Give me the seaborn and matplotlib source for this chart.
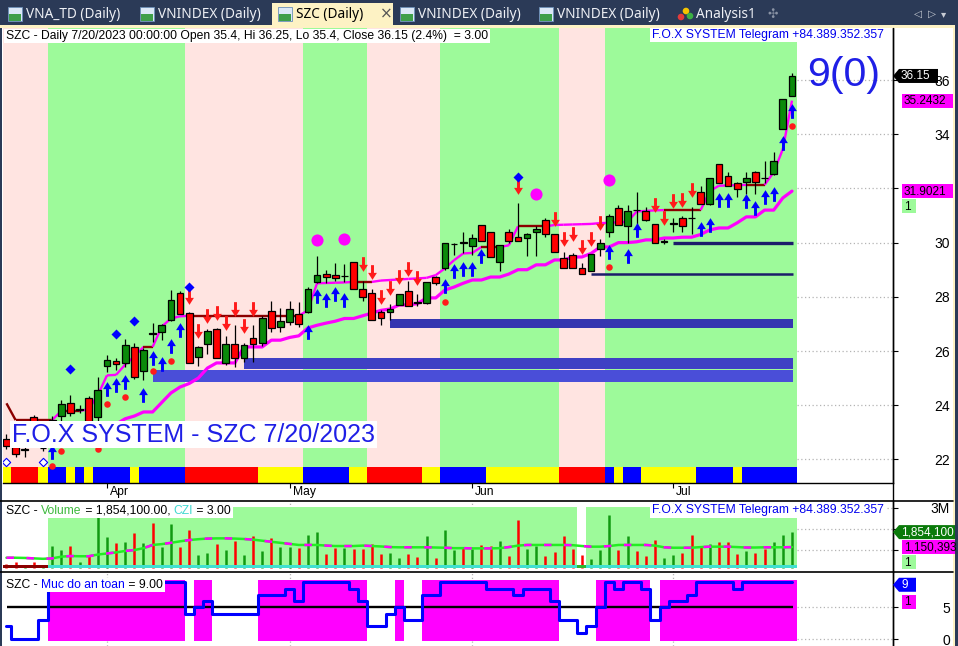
import numpy as np
import matplotlib
matplotlib.use("Agg")
import matplotlib.pyplot as plt
import seaborn as sns
from matplotlib.path import Path
from matplotlib.patches import Rectangle, Polygon, Circle
from matplotlib.lines import Line2D
from matplotlib.transforms import IdentityTransform, ScaledTranslation
from matplotlib.collections import LineCollection

# ====================== data ======================
month_labels = ["Apr", "May", "Jun", "Jul"]
month_bars = [11, 31, 51, 73]

opens = [22.75, 22.45, 22.35, 23.55, 22.42, 22.80, 23.60, 24.08, 23.83, 24.27,
         23.56, 25.45, 25.63, 25.56, 26.15, 25.27, 26.65, 26.70, 27.15, 28.14,
         27.40, 25.78, 26.26, 26.81, 25.56, 26.26, 25.74, 26.48, 26.30, 27.48,
         26.89, 27.07, 27.37, 27.44, 28.53, 28.84, 28.80, 28.76, 29.30, 28.30,
         28.14, 27.45, 27.44, 27.70, 28.20, 27.81, 27.78, 28.73, 29.07, 29.94,
         30.01, 29.88, 30.65, 30.40, 29.30, 30.40, 30.20, 30.17, 30.40, 30.83,
         30.30, 29.43, 29.55, 29.06, 28.95, 29.77, 30.40, 31.27, 30.60, 31.21,
         31.17, 30.70, 30.04, 30.69, 30.90, 30.91, 31.87, 31.43, 32.90, 32.45,
         32.20, 32.23, 32.60, 32.39, 32.53, 34.20, 35.40]
highs = [22.95, 22.60, 22.50, 23.65, 22.55, 23.60, 24.20, 24.38, 24.00, 24.35,
         25.05, 25.85, 25.75, 26.45, 26.30, 26.10, 27.04, 27.00, 28.25, 28.20,
         27.45, 26.20, 26.80, 26.85, 26.55, 26.96, 26.30, 26.95, 27.30, 27.85,
         27.60, 27.85, 27.80, 28.35, 29.50, 29.00, 29.25, 29.20, 29.30, 28.60,
         28.30, 27.50, 27.75, 28.10, 28.60, 28.10, 28.55, 28.75, 30.00, 29.98,
         30.40, 30.30, 30.65, 30.40, 29.92, 30.50, 31.45, 30.35, 30.60, 30.90,
         30.30, 29.65, 29.60, 29.25, 29.58, 30.15, 31.05, 31.40, 31.40, 31.85,
         31.30, 30.70, 30.15, 30.90, 31.00, 31.30, 32.10, 32.38, 32.90, 32.60,
         32.25, 32.60, 32.65, 33.00, 33.35, 35.30, 36.25]
lows = [22.40, 22.10, 22.10, 22.60, 22.30, 22.60, 23.40, 23.60, 23.70, 23.35,
        23.40, 25.23, 25.30, 25.40, 24.95, 24.93, 26.33, 26.40, 27.10, 27.35,
        25.56, 25.45, 25.90, 25.74, 25.50, 25.42, 25.60, 25.60, 26.20, 26.70,
        26.70, 26.95, 26.90, 27.40, 28.50, 28.50, 28.60, 28.55, 28.30, 27.85,
        27.15, 26.95, 27.15, 27.70, 27.66, 27.65, 27.75, 28.45, 29.00, 29.55,
        29.60, 29.55, 30.05, 29.47, 28.95, 30.00, 30.05, 29.50, 29.50, 30.20,
        29.65, 29.06, 29.06, 28.84, 28.95, 29.50, 30.20, 30.65, 30.00, 30.40,
        30.80, 30.00, 29.95, 30.40, 30.40, 30.30, 31.43, 31.40, 32.20, 32.10,
        31.70, 31.80, 31.80, 32.20, 32.50, 34.20, 35.40]
closes = [22.50, 22.20, 22.38, 22.70, 22.42, 23.45, 24.05, 23.72, 23.85, 23.40,
          24.56, 25.67, 25.52, 26.22, 25.04, 26.04, 26.62, 26.96, 27.88, 27.37,
          25.56, 26.15, 26.74, 25.74, 26.26, 25.74, 26.22, 26.26, 27.22, 26.85,
          27.11, 27.55, 27.00, 28.29, 28.80, 28.73, 28.70, 28.78, 28.30, 28.00,
          27.15, 27.20, 27.55, 28.10, 27.66, 27.79, 28.55, 28.50, 30.00, 29.96,
          29.99, 30.17, 30.06, 29.47, 29.90, 30.06, 30.06, 30.30, 30.50, 30.30,
          29.65, 29.06, 29.06, 28.84, 29.58, 30.00, 31.00, 30.65, 31.15, 31.19,
          30.83, 30.00, 30.06, 30.71, 30.60, 30.89, 31.43, 32.38, 32.20, 32.10,
          31.98, 32.38, 32.23, 32.37, 33.00, 35.30, 36.15]

# fast trailing line (magenta rising / dark red flat)
upper_line = [24.07, 23.45, 23.45, 23.45, 23.45, 23.45, 23.79, 23.79, 23.79, 23.85,
              24.37, 25.10, 25.12, 25.50, 25.80, 26.15, 26.15, 26.90, 27.20, 27.28,
              27.30, 27.30, 27.30, 27.30, 27.30, 27.30, 27.30, 27.30, 27.30, 27.30,
              27.30, 27.30, 27.30, 27.50, 28.50, 28.51, 28.52, 28.53, 28.55, 28.55,
              28.55, 28.60, 28.62, 28.64, 28.66, 28.68, 28.70, 28.80, 29.05, 29.35,
              29.60, 29.62, 29.84, 29.84, 29.84, 29.90, 30.60, 30.60, 30.60, 30.60,
              30.65, 30.66, 30.67, 30.68, 30.69, 30.72, 30.73, 30.75, 30.77, 31.15,
              31.17, 31.19, 31.20, 31.20, 31.20, 31.20, 31.20, 31.90, 32.10, 32.11,
              32.12, 32.13, 32.13, 32.13, 32.60, 33.45, 35.24]
# slow trailing support line, starts at bar 11
lower_start = 11
lower_line = [23.00, 23.30, 23.50, 23.60, 23.75, 23.75, 24.10, 24.45, 24.67, 24.80,
              25.00, 25.37, 25.56, 25.56, 25.56, 26.15, 26.15, 26.15, 26.40, 26.40,
              26.50, 26.56, 26.85, 26.95, 27.03, 27.10, 27.20, 27.20, 27.30, 27.40,
              27.50, 27.55, 27.70, 27.70, 27.75, 27.96, 27.96, 28.25, 28.36, 28.50,
              28.62, 28.62, 28.73, 28.73, 28.84, 29.00, 29.00, 29.18, 29.18, 29.36,
              29.36, 29.47, 29.47, 29.60, 29.84, 29.84, 30.00, 30.00, 30.03, 30.10,
              30.10, 30.17, 30.17, 30.20, 30.20, 30.30, 30.47, 30.54, 30.54, 30.73,
              30.95, 30.95, 31.20, 31.20, 31.65, 31.90]

# background regimes and bottom colour strip (run lengths over bars)
bg_runs = [("P", 5), ("G", 15), ("P", 13), ("G", 7), ("P", 8), ("G", 13), ("P", 5), ("G", 21)]
strip_runs = [("Y", 1), ("R", 3), ("Y", 1), ("B", 2), ("Y", 1), ("B", 1), ("Y", 1), ("B", 4),
              ("Y", 1), ("B", 5), ("R", 8), ("Y", 5), ("B", 5), ("Y", 2), ("R", 6), ("Y", 2),
              ("B", 5), ("Y", 8), ("R", 5), ("B", 1), ("Y", 1), ("B", 2), ("Y", 6), ("B", 4),
              ("Y", 1), ("B", 6)]

# support zones
zone_start = [16, 26, 42]
zone_low = [24.87, 25.35, 26.86]
zone_high = [25.30, 25.75, 27.18]
level_values = [30.00, 28.83]
level_start = [73, 64]

# signal markers
buy_bars = [5, 11, 12, 13, 15, 16, 17, 18, 19, 33, 34, 35, 36, 37, 48, 49, 50, 51, 52,
            66, 68, 69, 76, 77, 78, 79, 81, 82, 83, 84, 85, 86]
buy_y = [22.28, 24.58, 24.73, 24.84, 24.36, 25.76, 25.52, 26.20, 26.76, 26.69, 28.03, 27.90,
         28.10, 27.89, 28.40, 28.94, 29.03, 29.03, 29.49, 29.66, 29.51, 30.47, 30.52, 30.65,
         31.56, 31.56, 31.54, 31.26, 31.67, 31.78, 33.66, 34.84]
sell_bars = [20, 21, 22, 23, 24, 25, 26, 27, 39, 40, 41, 42, 43, 44, 45, 56, 60, 61, 62, 63,
             64, 65, 71, 72, 73, 74, 75]
sell_y = [27.98, 26.72, 27.31, 27.39, 27.02, 27.54, 26.91, 27.54, 29.20, 28.90, 27.98, 28.31,
          28.72, 29.01, 28.68, 32.04, 30.86, 30.15, 30.30, 29.82, 30.15, 30.71, 31.37, 30.89,
          31.54, 31.59, 31.96]
blue_dot_bars = [7, 12, 14, 20, 56]
blue_dot_y = [25.34, 26.63, 27.11, 28.37, 32.42]
red_dot_bars = [5, 6, 10, 11, 13, 16, 18, 48, 66, 86]
red_dot_y = [21.76, 22.32, 22.39, 24.05, 24.31, 25.27, 25.64, 27.82, 29.10, 34.30]
hollow_bars = [0, 4]
hollow_y = [21.90, 21.90]
circle_bars = [34, 37, 58, 66]
circle_y = [30.10, 30.13, 31.79, 32.31]

# volume panel (millions)
volume = [0.35, 0.45, 0.30, 0.45, 0.30, 1.22, 1.01, 1.22, 0.46, 0.73,
          2.58, 1.61, 1.34, 1.40, 1.83, 1.34, 2.28, 1.17, 2.23, 1.17,
          1.97, 0.78, 0.89, 1.30, 1.01, 1.44, 0.78, 1.69, 0.98, 1.56,
          1.15, 1.15, 1.13, 1.72, 1.87, 0.83, 1.13, 1.13, 1.08, 1.08,
          1.28, 0.83, 0.87, 0.65, 0.81, 0.70, 1.69, 0.65, 1.95, 1.01,
          1.15, 1.08, 1.25, 1.20, 1.44, 0.73, 2.42, 1.06, 1.22, 0.73,
          0.93, 1.67, 1.06, 0.78, 0.59, 1.01, 2.66, 1.01, 1.67, 0.97,
          0.73, 1.46, 0.65, 0.78, 0.89, 1.72, 1.20, 1.30, 1.37, 1.37,
          0.83, 0.97, 0.89, 1.04, 1.37, 1.72, 1.854]
volume_ma = [0.65, 0.65, 0.64, 0.62, 0.60, 0.62, 0.70, 0.73, 0.72, 0.72,
             0.80, 0.85, 0.90, 0.97, 1.01, 1.10, 1.25, 1.29, 1.35, 1.42,
             1.48, 1.52, 1.55, 1.56, 1.56, 1.55, 1.53, 1.50, 1.45, 1.40,
             1.35, 1.30, 1.25, 1.25, 1.25, 1.22, 1.20, 1.20, 1.20, 1.22,
             1.20, 1.18, 1.15, 1.14, 1.14, 1.14, 1.14, 1.13, 1.12, 1.10,
             1.10, 1.09, 1.09, 1.09, 1.10, 1.15, 1.22, 1.25, 1.25, 1.25,
             1.25, 1.25, 1.24, 1.20, 1.17, 1.17, 1.20, 1.25, 1.25, 1.25,
             1.25, 1.22, 1.14, 1.12, 1.12, 1.12, 1.15, 1.17, 1.17, 1.17,
             1.15, 1.13, 1.13, 1.14, 1.14, 1.14, 1.15]
vol_runs = [("D", 5), ("G", 58), ("W", 1), ("G", 23)]

# safety level panel
safety = [2, 0, 0, 0, 3, 9, 9, 9, 9, 9, 9, 9, 9, 9, 9, 9, 9, 9, 9, 9,
          4, 5, 6, 4, 4, 4, 4, 4, 7, 7, 7, 8, 6, 9, 9, 9, 9, 9, 8, 6,
          2, 2, 4, 5, 3, 3, 7, 7, 9, 9, 9, 9, 9, 8, 8, 8, 7, 8, 8, 8,
          6, 3, 3, 1, 2, 5, 9, 8, 9, 9, 8, 3, 5, 6, 6, 7, 9, 9, 9, 9,
          8, 9, 9, 9, 9, 9, 9]

price_ticks = [22, 24, 26, 28, 30, 32, 34, 36]
price_tick_labels = ["22", "24", "26", "28", "30", "", "34", "36"]   # 32 sits under the value tag
vol_ticks = [1, 2, 3]
vol_tick_labels = ["", "", "3M"]                                       # 1M / 2M sit under the value tags
title_main = "SZC - Daily 7/20/2023 00:00:00 Open 35.4, Hi 36.25, Lo 35.4, Close 36.15 (2.4%)  = 3.00"
telegram = "F.O.X SYSTEM Telegram +84.389.352.357"
watermark = "F.O.X SYSTEM - SZC 7/20/2023"
score_text = "9(0)"
tab_names = ["VNA_TD (Daily)", "VNINDEX (Daily)", "SZC (Daily)", "VNINDEX (Daily)",
             "VNINDEX (Daily)", "Analysis1"]

# ====================== style ======================
sns.set_style("white")
plt.rcParams["font.family"] = ["Liberation Sans", "DejaVu Sans"]

PINK, PGREEN = "#ffe4e1", "#9dfa9a"
BG_COL = {"P": PINK, "G": PGREEN}
STRIP_COL = {"Y": "#ffff00", "R": "#ff0000", "B": "#0000ff"}
ZONE_COL = ["#4a4ed8", "#3f40c4", "#3535b0"]
UP_COL, DN_COL = "#0a8a0a", "#ff0000"
MAGENTA, DARKRED = "#ff00ff", "#8b0000"
NAVY, CREAM = "#2b3a57", "#fdf2c4"
TXT_BLUE = "#1f1fe6"

W, H = 958, 646
fig = plt.figure(figsize=(W / 100, H / 100), dpi=100)
fig.patch.set_facecolor("white")
ID = IdentityTransform()


def fig_rect(x0, y0, x1, y1):
    return [x0 / W, 1 - y1 / H, (x1 - x0) / W, (y1 - y0) / H]


def px_rect(x0, y0, x1, y1, color, z=1, ec="none", lw=0):
    r = Rectangle((x0, H - y1), x1 - x0, y1 - y0, transform=ID, facecolor=color,
                  edgecolor=ec, linewidth=lw, zorder=z)
    fig.add_artist(r)
    return r


def px_text(x, y, s, **kw):
    return fig.text(x / W, 1 - y / H, s, **kw)


def runs_from(run_list):
    out, pos = [], 0
    for code, length in run_list:
        out.append((pos, length, code))
        pos += length
    return out


n = len(closes)
xs = np.arange(n)
o, h, l, c = map(np.asarray, (opens, highs, lows, closes))
up = c >= o

XMIN, XMAX = -0.38, 97.06
PRICE_LO, PRICE_HI, STRIP_TOP = 21.14, 37.92, 21.72
LAST = n - 1 + 0.5

ax = fig.add_axes(fig_rect(3, 28, 893, 482.7))
axv = fig.add_axes(fig_rect(3, 501, 893, 572), sharex=ax)
axs = fig.add_axes(fig_rect(3, 572, 893, 646), sharex=ax)
for a in (ax, axv, axs):
    a.set_facecolor("white")
    for sp in ("left", "top"):
        a.spines[sp].set_visible(False)
    a.spines["right"].set_color("black")
    a.spines["right"].set_linewidth(1.0)
    a.spines["bottom"].set_color("black")
    a.spines["bottom"].set_linewidth(1.0)
axv.spines["bottom"].set_visible(False)
axs.spines["bottom"].set_visible(False)

# ---------------- main price panel ----------------
for s, w, code in runs_from(bg_runs):
    ax.bar(s - 0.5, PRICE_HI - STRIP_TOP, width=w, bottom=STRIP_TOP, align="edge",
           color=BG_COL[code], linewidth=0, zorder=1)
for s, w, code in runs_from(strip_runs):
    ax.bar(s - 0.5, STRIP_TOP - PRICE_LO, width=w, bottom=PRICE_LO, align="edge",
           color=STRIP_COL[code], linewidth=0, zorder=1)

ax.hlines(price_ticks, LAST, XMAX, colors="#b4b4b4", linestyles=(0, (1, 2)), lw=0.9, zorder=0.8)

ZONE_END = n - 1 + 0.1
for s, lo, hi, col in zip(zone_start, zone_low, zone_high, ZONE_COL):
    ax.fill_between([s, ZONE_END], lo, hi, color=col, linewidth=0, zorder=2)
for lv, s, lw in zip(level_values, level_start, [2.4, 1.8]):
    ax.hlines(lv, s, ZONE_END, colors="#1c1c6a", lw=lw, zorder=2.5)

# fast line, coloured per segment
segs, cols = [], []
for i in range(1, n):
    segs.append([(i - 1, upper_line[i - 1]), (i, upper_line[i])])
    cols.append(DARKRED if upper_line[i] <= upper_line[i - 1] else MAGENTA)
ax.add_collection(LineCollection(segs, colors=cols, linewidths=1.7, zorder=3))

# slow support line
sns.lineplot(x=xs[lower_start:], y=lower_line, color=MAGENTA, linewidth=2.3, ax=ax,
             legend=False, zorder=3)

# candles
ax.vlines(xs, l, h, color="black", lw=0.9, zorder=4)
body_lo = np.minimum(o, c)
body_h = np.abs(c - o)
ax.bar(xs, body_h, bottom=body_lo, width=0.74, color=np.where(up, UP_COL, DN_COL),
       edgecolor="black", linewidth=0.9, zorder=5)

# arrow markers
up_arrow = Path([(0, 1), (-0.6, 0.05), (-0.2, 0.05), (-0.2, -1), (0.2, -1), (0.2, 0.05),
                 (0.6, 0.05), (0, 1)], closed=True)
dn_arrow = Path([(0, -1), (-0.6, -0.05), (-0.2, -0.05), (-0.2, 1), (0.2, 1), (0.2, -0.05),
                 (0.6, -0.05), (0, -1)], closed=True)
ax.scatter(buy_bars, buy_y, marker=up_arrow, s=112, color="#0000ff", linewidths=0, zorder=6)
ax.scatter(sell_bars, sell_y, marker=dn_arrow, s=112, color="#ff1a1a", linewidths=0, zorder=6)
sns.scatterplot(x=blue_dot_bars, y=blue_dot_y, marker="D", s=26, color="#0000ff",
                edgecolor="#0000ff", linewidth=0, ax=ax, legend=False, zorder=6)
sns.scatterplot(x=red_dot_bars, y=red_dot_y, marker="o", s=22, color="#ff1a1a",
                edgecolor="#ff1a1a", linewidth=0, ax=ax, legend=False, zorder=6)
sns.scatterplot(x=hollow_bars, y=hollow_y, marker="D", s=18, color="white",
                edgecolor="#0000ff", linewidth=0.8, ax=ax, legend=False, zorder=6)
sns.scatterplot(x=circle_bars, y=circle_y, marker="o", s=76, color=MAGENTA,
                edgecolor=MAGENTA, linewidth=0, ax=ax, legend=False, zorder=6)

ax.set_xlim(XMIN, XMAX)
ax.set_ylim(PRICE_LO, PRICE_HI)
ax.set_xlabel("")
ax.set_ylabel("")
ax.yaxis.tick_right()
ax.set_yticks(price_ticks)
ax.set_yticklabels(price_tick_labels, ha="right")
ax.tick_params(axis="y", which="major", right=True, left=False, labelright=True, labelleft=False,
               direction="out", length=3.6, width=0.8, pad=37.5, labelsize=10, colors="black")
ax.set_xticks(month_bars)
ax.set_xticklabels(month_labels, ha="left")
ax.tick_params(axis="x", direction="out", length=3.6, width=0.8, pad=-1.0, labelsize=8.7,
               colors="black", bottom=True)
for lab in ax.get_xticklabels():
    lab.set_transform(lab.get_transform() + ScaledTranslation(0.03, 0, fig.dpi_scale_trans))

# ---------------- volume panel ----------------
VOL_LO, VOL_HI = -0.02, 3.315
VBASE, VSTRIP, VTOP = 0.17, 0.31, 3.03
axv.vlines(month_bars, VOL_LO, VOL_HI, colors="#b4b4b4", linestyles=(0, (1, 2)), lw=0.9, zorder=0.8)
axv.hlines(vol_ticks, LAST, XMAX, colors="#b4b4b4", linestyles=(0, (1, 2)), lw=0.9, zorder=0.8)
VSTRIP_COL = {"G": "#40e0d0", "D": "#8b0000", "W": "#2db82d"}
for s, w, code in runs_from(vol_runs):
    if code == "G":
        axv.bar(s - 0.5, VTOP - VSTRIP, width=w, bottom=VSTRIP, align="edge", color=PGREEN,
                linewidth=0, zorder=1)
    axv.bar(s - 0.5, VSTRIP - VBASE, width=w, bottom=VBASE, align="edge",
            color=VSTRIP_COL[code], linewidth=0, zorder=4)
axv.vlines(xs, VBASE, volume, colors=np.where(up, "#119911", "#ff0000"), lw=1.8, zorder=3)
sns.lineplot(x=xs, y=volume_ma, color="#22ee22", linewidth=1.8, ax=axv, legend=False, zorder=3.5)
axv.plot(xs, volume_ma, color=MAGENTA, linewidth=1.8, dashes=(3, 5), zorder=3.6)
axv.set_ylim(VOL_LO, VOL_HI)
axv.set_xlabel("")
axv.set_ylabel("")
axv.yaxis.tick_right()
axv.set_yticks(vol_ticks)
axv.set_yticklabels(vol_tick_labels, ha="right")
axv.tick_params(axis="y", right=True, left=False, labelright=True, labelleft=False, direction="out",
                length=3.6, width=0.8, pad=37.5, labelsize=10, colors="black")
axv.tick_params(axis="x", bottom=False, labelbottom=False)

# ---------------- safety panel ----------------
S_LO, S_HI = -1.11, 10.63
axs.vlines(month_bars, S_LO, S_HI, colors="#b4b4b4", linestyles=(0, (1, 2)), lw=0.9, zorder=0.8)
axs.hlines([0, 5], LAST, XMAX, colors="#b4b4b4", linestyles=(0, (1, 2)), lw=0.9, zorder=0.8)
safe_arr = np.asarray(safety)
ok = safe_arr >= 5
start = None
for i in range(n + 1):
    flag = ok[i] if i < n else False
    if flag and start is None:
        start = i
    if not flag and start is not None:
        axs.bar(start - 0.5, 9.37 + 0.32, width=i - start, bottom=-0.32, align="edge",
                color=MAGENTA, linewidth=0, zorder=1)
        start = None
axs.hlines(5, 0.05, ZONE_END, colors="black", lw=1.7, zorder=2)
sns.lineplot(x=xs, y=safety, drawstyle="steps-mid", color="#0000ff", linewidth=2.2, ax=axs,
             legend=False, zorder=3)
axs.set_ylim(S_LO, S_HI)
axs.set_xlabel("")
axs.set_ylabel("")
axs.yaxis.tick_right()
axs.set_yticks([0, 5])
axs.set_yticklabels(["0", "5"], ha="right")
axs.tick_params(axis="y", right=True, left=False, labelright=True, labelleft=False, direction="out",
                length=3.6, width=0.8, pad=37.5, labelsize=10, colors="black")
axs.tick_params(axis="x", bottom=False, labelbottom=False)
ax.set_xlim(XMIN, XMAX)

# ---------------- frame, tabs ----------------
px_rect(0, 0, W, 26, NAVY, z=1)
px_rect(0, 25, 953, 28, CREAM, z=2)
px_rect(272, 3, 393, 28, CREAM, z=2)
px_rect(0, 0, 2, H, NAVY, z=1)
px_rect(953, 25, 955, H, CREAM, z=1)
px_rect(955, 0, W, H, NAVY, z=1)
fig.add_artist(Line2D([0, 953], [H - 501, H - 501], transform=ID, color="black", lw=1.2, zorder=5))
fig.add_artist(Line2D([0, 953], [H - 572, H - 572], transform=ID, color="black", lw=1.2, zorder=5))
fig.add_artist(Line2D([893, 893], [H - 28, 0], transform=ID, color="black", lw=1.0, zorder=5))

tab_x = [26, 158, 296, 418, 557, 696]
icon_x = [8, 140, 278, 400, 539, 678]
for i, (name, tx, ix) in enumerate(zip(tab_names, tab_x, icon_x)):
    active = i == 2
    px_text(tx, 14.5, name, color="black" if active else "#eef0f5", fontsize=9.8,
            fontweight="bold" if active else "normal", family=["Noto Sans", "DejaVu Sans"],
            va="center", ha="left", zorder=4)
    if name == "Analysis1":
        for dx, dy, col in [(3, 17, "#e23b3b"), (8, 11, "#f5c400"), (12, 16, "#3cb043")]:
            fig.add_artist(Circle((ix + dx, H - dy), 3.3, transform=ID, fc=col, ec="none", zorder=4))
    else:
        px_rect(ix, 7, ix + 14, 21, "#dbe8f7", z=4, ec="#6b8fb8", lw=0.6)
        px_rect(ix + 1, 14, ix + 13, 20.5, "#3e9f4a", z=4.1)
px_text(380, 14, "\u00d7", color="#555555", fontsize=11, family="DejaVu Sans", va="center", zorder=4)
px_text(767, 14, "\u2723", color="#8a93a5", fontsize=9, family="DejaVu Sans", va="center", zorder=4)
for xx, g in [(914, "\u25c1"), (928, "\u25b7"), (941, "\u25be")]:
    px_text(xx, 14, g, color="#c8ccd4", fontsize=7.5, family="DejaVu Sans", va="center", zorder=4)

# ---------------- texts ----------------
renderer = fig.canvas.get_renderer()


def text_width(s, fs):
    t1 = fig.text(0, 0, s + "|", fontsize=fs)
    t2 = fig.text(0, 0, "|", fontsize=fs)
    wdt = t1.get_window_extent(renderer).width - t2.get_window_extent(renderer).width
    t1.remove()
    t2.remove()
    return wdt


def multi_text(x, y, parts, fs):
    full = "".join(p for p, _ in parts)
    px_rect(x - 2, y - 7, x + text_width(full, fs) + 2, y + 7, "white", z=6)
    cx = x
    for s, col in parts:
        px_text(cx, y, s, color=col, fontsize=fs, va="center", ha="left", zorder=7)
        cx += text_width(s, fs)


FS = 8.7
multi_text(6, 36, [(title_main, "black")], FS)
multi_text(652, 35, [(telegram, "#0000ee")], FS)
multi_text(6, 510.5, [("SZC - ", "black"), ("Volume", "#3cb83c"),
                      (" = 1,854,100.00, ", "black"), ("CZI", "#40d8d0"), (" = 3.00", "black")], FS)
multi_text(652, 510.5, [(telegram, "#0000ee")], FS)
multi_text(6, 584.5, [("SZC - ", "black"), ("Muc do an toan", "#0000ff"), (" = 9.00", "black")], FS)

px_text(12, 434.5, watermark, color=TXT_BLUE, fontsize=18, va="center", ha="left", zorder=7,
        bbox=dict(facecolor="white", edgecolor="none", pad=1.2))
px_text(807, 86, score_text, color=TXT_BLUE, fontsize=29.5, va="baseline", ha="left", zorder=7)


def val_y(a, v):
    return H - a.transData.transform((0, v))[1]


def tag(y_img, text, fc, tc, x0=902, x1=953, hgt=14, pointer=False, fs=8.5):
    yb = H - y_img - hgt / 2
    if pointer:
        pts = [(893, H - y_img), (x0, yb + hgt), (x1, yb + hgt), (x1, yb), (x0, yb)]
        fig.add_artist(Polygon(pts, closed=True, transform=ID, fc=fc, ec="none", zorder=8))
    else:
        fig.add_artist(Rectangle((x0, yb), x1 - x0, hgt, transform=ID, fc=fc, ec="none", zorder=8))
    px_text(x0 + 2, y_img + 0.5, text, color=tc, fontsize=fs, va="center", ha="left", zorder=9)


tag(val_y(ax, closes[-1]), "36.15", "black", "white", x0=899, x1=938, pointer=True)
tag(val_y(ax, upper_line[-1]), "35.2432", MAGENTA, "black")
y_low = val_y(ax, lower_line[-1])
tag(y_low, "31.9021", MAGENTA, "black")
tag(y_low + 15, "1", PGREEN, "black", x1=916)
tag(val_y(axv, volume[-1]), "1,854,100", "#0a7a0a", "white", x0=899, x1=955, pointer=True)
y_ma = val_y(axv, volume_ma[-1])
tag(y_ma, "1,150,393", MAGENTA, "black", x1=955)
tag(y_ma + 15, "1", PGREEN, "black", x1=916)
y_s = val_y(axs, safety[-1]) + 2.5
tag(y_s, "9", "#0000ff", "white", x0=899, x1=916, pointer=True)
tag(y_s + 17, "1", MAGENTA, "black", x1=916)

fig.savefig("out.png", dpi=100, facecolor="white")
